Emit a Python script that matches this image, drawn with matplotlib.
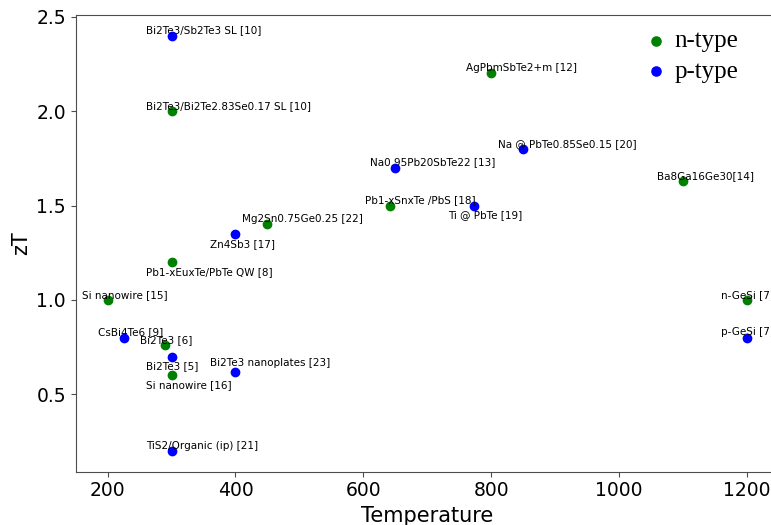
import matplotlib
matplotlib.use("Agg")
from matplotlib import pyplot as plt

# n-type materials
n_temp = [300, 800, 1100, 642, 450, 300, 200, 290, 300, 1200]
n_zt = [2.0, 2.2, 1.63, 1.5, 1.4, 1.2, 1.0, 0.76, 0.6, 1.0]
n_names = ["Bi2Te3/Bi2Te2.83Se0.17 SL [10]", "AgPbmSbTe2+m [12]",
           "Ba8Ga16Ge30[14]", "Pb1-xSnxTe /PbS [18]", "Mg2Sn0.75Ge0.25 [22]",
           "Pb1-xEuxTe/PbTe QW [8]", "Si nanowire [15]", "Bi2Te3 [6]",
           "Si nanowire [16]", "n-GeSi [7]"]

# p-type materials
p_temp = [300, 850, 650, 773, 400, 225, 300, 400, 300, 1200]
p_zt = [2.4, 1.8, 1.7, 1.5, 1.35, 0.8, 0.7, 0.62, 0.2, 0.8]
p_names = ["Bi2Te3/Sb2Te3 SL [10]", "Na @ PbTe0.85Se0.15 [20]",
           "Na0.95Pb20SbTe22 [13]", "Ti @ PbTe [19]", "Zn4Sb3 [17]",
           "CsBi4Te6 [9]", "Bi2Te3 [5]", "Bi2Te3 nanoplates [23]",
           "TiS2/Organic (ip) [21]", "p-GeSi [7]"]

# labels that sit under their point instead of above
below = ["Zn4Sb3 [17]", "Ti @ PbTe [19]", "Pb1-xEuxTe/PbTe QW [8]",
         "Bi2Te3 [5]", "Si nanowire [16]"]
higher = ["Bi2Te3 nanoplates [23]"]

fig = plt.figure(figsize=(7.71, 5.25), dpi=100)
ax = fig.add_axes([0.0982, 0.1015, 0.9118, 0.870])

ax.scatter(n_temp, n_zt, color='green', label='n-type')
ax.scatter(p_temp, p_zt, color='blue', label='p-type')


def put_labels(xs, ys, names):
    for x, y, name in zip(xs, ys, names):
        if name in below:
            dy = -0.068
        elif name in higher:
            dy = 0.028
        else:
            dy = 0.012
        ax.text(x - 40, y + dy, name, fontsize=7.5)


put_labels(n_temp, n_zt, n_names)
put_labels(p_temp, p_zt, p_names)

ax.set_xlim(150, 1250)
ax.set_ylim(0.09, 2.51)
ax.tick_params(labelsize=13.5, color='0.3')
for s in ax.spines.values():
    s.set_color('0.3')
ax.set_xlabel('Temperature', fontsize=15)
ax.set_ylabel('zT', fontsize=15)

ax.legend(loc='upper right', bbox_to_anchor=(0.9745, 1.017), frameon=False,
          prop={'family': 'Liberation Serif', 'size': 18},
          handlelength=1.0, handletextpad=0.25, labelspacing=0.33,
          markerscale=1.1)

fig.savefig('out.png', dpi=100)
